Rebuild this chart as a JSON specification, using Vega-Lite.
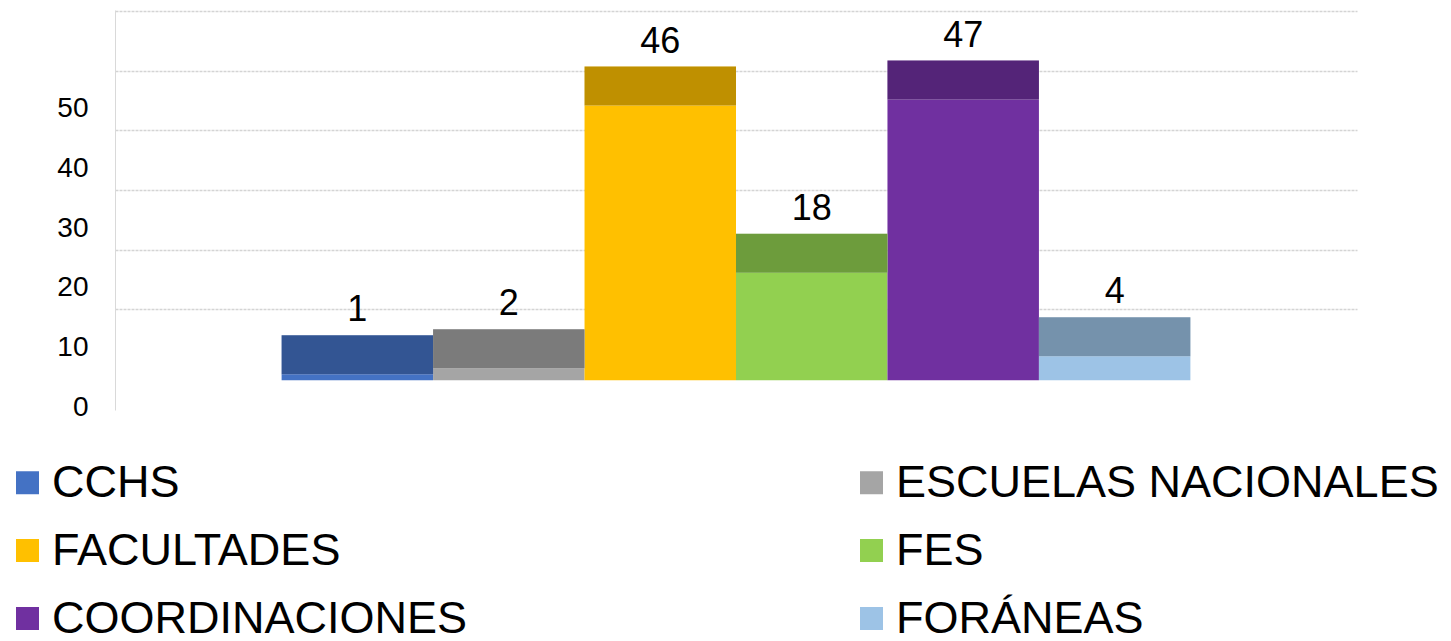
{
  "$schema": "https://vega.github.io/schema/vega-lite/v6.json",
  "width": 1242,
  "height": 400,
  "autosize": {"type": "none"},
  "padding": {"left": 115, "top": 10, "right": 94, "bottom": 231},
  "config": {"view": {"stroke": null}, "font": "Liberation Sans"},
  "data": {
    "values": [
      {"tipo": "CCHS", "total": 1},
      {"tipo": "ESCUELAS NACIONALES", "total": 2},
      {"tipo": "FACULTADES", "total": 46},
      {"tipo": "FES", "total": 18},
      {"tipo": "COORDINACIONES", "total": 47},
      {"tipo": "FORÁNEAS", "total": 4}
    ]
  },
  "encoding": {
    "x": {
      "field": "tipo",
      "type": "nominal",
      "axis": null,
      "scale": {
        "domain": ["", "CCHS", "ESCUELAS NACIONALES", "FACULTADES", "FES", "COORDINACIONES", "FORÁNEAS", " "],
        "paddingInner": 0,
        "paddingOuter": 0.1
      }
    }
  },
  "layer": [
    {
      "mark": {"type": "bar"},
      "encoding": {
        "y": {
          "field": "total",
          "type": "quantitative",
          "scale": {"domain": [-5, 62], "nice": false, "zero": false},
          "axis": {
            "title": null,
            "values": [0, 10, 20, 30, 40, 50, 60],
            "labelExpr": "datum.value == 60 ? '' : datum.label",
            "tickOffset": -11,
            "labelOffset": 38,
            "grid": true,
            "gridColor": "#d4d4d4",
            "gridDash": [3, 1],
            "gridWidth": 1.5,
            "gridOpacity": {"condition": {"test": "datum.value == 0", "value": 0}, "value": 1},
            "ticks": false,
            "tickSize": 0,
            "domainColor": "#d9d9d9",
            "labelFontSize": 28,
            "labelColor": "#000000",
            "labelPadding": 27
          }
        },
        "y2": {"datum": 0},
        "color": {
          "field": "tipo",
          "type": "nominal",
          "scale": {
            "domain": ["CCHS", "FACULTADES", "COORDINACIONES", "ESCUELAS NACIONALES", "FES", "FORÁNEAS"],
            "range": ["#4472C4", "#FFC000", "#7030A0", "#A5A5A5", "#92D050", "#9DC3E6"]
          },
          "legend": {
            "title": null,
            "orient": "none",
            "legendX": -110,
            "legendY": 450,
            "columns": 2,
            "columnPadding": 381,
            "rowPadding": 22,
            "padding": 0,
            "symbolType": "square",
            "symbolSize": 529,
            "symbolStrokeWidth": 0,
            "symbolOpacity": 1,
            "labelFontSize": 45,
            "labelColor": "#000000",
            "labelOffset": 2,
            "labelLimit": 700
          }
        }
      }
    },
    {
      "mark": {"type": "bar", "y2Offset": -39},
      "encoding": {
        "y": {"field": "total", "type": "quantitative"},
        "y2": {"field": "total"},
        "color": {"field": "tipo", "type": "nominal"}
      }
    },
    {
      "mark": {"type": "bar", "y2Offset": -39, "color": "#000000", "opacity": 0.25},
      "encoding": {
        "y": {"field": "total", "type": "quantitative"},
        "y2": {"field": "total"}
      }
    },
    {
      "mark": {"type": "text", "dy": -53, "baseline": "alphabetic", "fontSize": 36, "color": "#000000"},
      "encoding": {
        "y": {"field": "total", "type": "quantitative"},
        "text": {"field": "total", "type": "quantitative"}
      }
    }
  ]
}
